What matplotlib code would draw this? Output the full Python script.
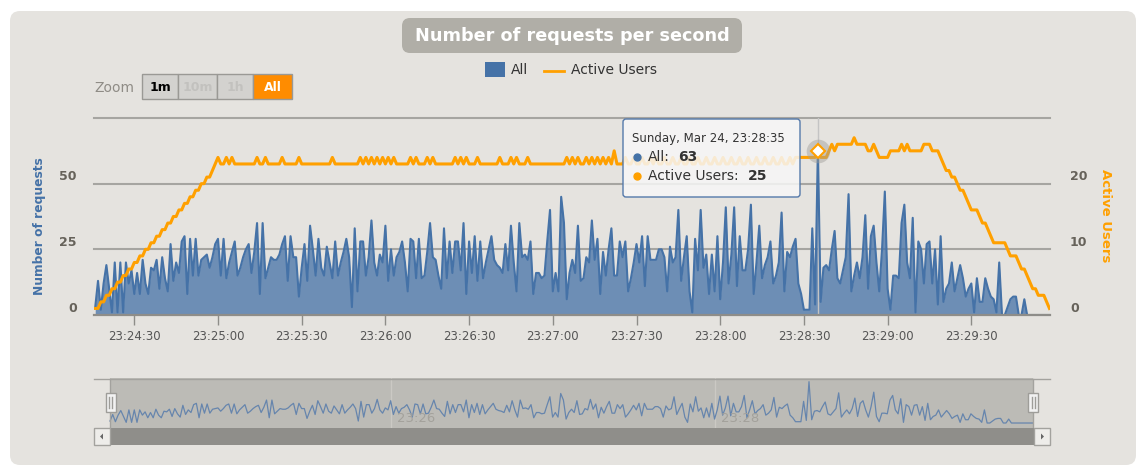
import matplotlib
matplotlib.use("Agg")
import numpy as np
import matplotlib.pyplot as plt
from matplotlib.patches import Rectangle, FancyBboxPatch, Polygon
from matplotlib.lines import Line2D
from matplotlib.transforms import IdentityTransform

W, H = 1146, 473

# requests per second, one value per second starting 23:24:16
requests = [
    3, 13, 2, 12, 19, 10, 1, 20, 1, 20,
    1, 20, 12, 17, 8, 16, 8, 21, 12, 8,
    18, 17, 21, 10, 22, 14, 9, 27, 13, 20,
    16, 28, 30, 8, 29, 15, 29, 15, 21, 22,
    23, 18, 22, 27, 29, 15, 29, 14, 20, 24,
    28, 15, 18, 22, 25, 27, 16, 24, 35, 8,
    35, 14, 18, 22, 21, 21, 23, 27, 30, 13,
    30, 22, 22, 7, 18, 27, 13, 34, 25, 15,
    29, 18, 15, 26, 20, 14, 28, 15, 20, 24,
    29, 22, 3, 33, 9, 28, 28, 15, 22, 36,
    20, 15, 23, 20, 34, 13, 25, 15, 22, 24,
    28, 20, 9, 29, 28, 14, 29, 14, 15, 24,
    35, 22, 21, 15, 10, 33, 14, 28, 16, 28,
    28, 17, 35, 8, 28, 16, 30, 13, 28, 14,
    20, 25, 30, 21, 19, 18, 16, 27, 17, 34,
    20, 9, 35, 22, 23, 21, 28, 8, 16, 16,
    14, 15, 28, 40, 9, 16, 9, 45, 35, 6,
    16, 21, 16, 34, 13, 14, 22, 20, 36, 21,
    29, 8, 24, 15, 25, 33, 15, 15, 28, 22,
    28, 9, 14, 20, 27, 20, 30, 11, 30, 21,
    21, 21, 25, 25, 22, 9, 26, 20, 22, 40,
    13, 22, 30, 9, 1, 29, 17, 40, 18, 23,
    8, 23, 9, 30, 6, 20, 41, 12, 23, 41,
    11, 30, 17, 17, 25, 42, 8, 20, 34, 14,
    19, 22, 28, 12, 15, 20, 39, 9, 24, 22,
    26, 29, 12, 8, 2, 2, 2, 33, 4, 63,
    5, 18, 19, 17, 25, 32, 14, 12, 17, 22,
    46, 9, 15, 20, 14, 22, 38, 10, 30, 34,
    20, 9, 25, 47, 10, 2, 15, 15, 14, 35,
    42, 20, 14, 37, 1, 28, 25, 12, 27, 28,
    12, 25, 4, 30, 5, 10, 12, 20, 9, 14,
    19, 14, 7, 10, 12, 1, 14, 5, 5, 14,
    10, 7, 6, 1, 20, 0, 0, 3, 6, 7,
    7, 0, 0, 6, 0, 0, 0, 0, 0, 0,
    0, 0, 0,
]

active_users = [
    1, 1, 2, 2, 3, 3, 4, 4, 5, 5,
    6, 6, 7, 7, 8, 8, 9, 9, 10, 10,
    11, 11, 12, 12, 13, 13, 14, 14, 15, 15,
    16, 16, 17, 17, 18, 18, 19, 19, 20, 20,
    21, 21, 22, 23, 24, 23, 23, 24, 23, 24,
    23, 23, 23, 23, 23, 23, 23, 23, 24, 23,
    23, 24, 23, 23, 23, 23, 23, 24, 23, 23,
    23, 23, 23, 24, 23, 23, 23, 23, 23, 23,
    23, 23, 23, 23, 23, 24, 23, 23, 23, 23,
    23, 23, 23, 23, 23, 24, 23, 24, 23, 24,
    23, 24, 23, 24, 23, 24, 23, 24, 23, 23,
    23, 23, 23, 24, 23, 24, 23, 23, 23, 24,
    23, 24, 23, 23, 23, 23, 23, 23, 23, 24,
    23, 24, 23, 24, 23, 23, 23, 24, 23, 23,
    23, 23, 23, 23, 23, 24, 23, 23, 23, 24,
    23, 24, 23, 23, 23, 24, 23, 23, 23, 23,
    23, 23, 23, 23, 23, 23, 23, 23, 23, 24,
    23, 24, 23, 24, 23, 23, 24, 23, 24, 23,
    24, 23, 24, 23, 24, 23, 25, 23, 23, 23,
    24, 23, 23, 24, 23, 23, 24, 23, 23, 24,
    23, 24, 23, 23, 24, 23, 23, 24, 23, 23,
    24, 23, 23, 24, 23, 23, 24, 23, 23, 24,
    23, 23, 24, 23, 23, 24, 23, 23, 24, 23,
    23, 24, 23, 23, 24, 23, 23, 24, 23, 23,
    24, 23, 23, 24, 23, 23, 24, 23, 23, 24,
    23, 24, 24, 24, 24, 24, 24, 24, 24, 25,
    24, 24, 24, 25, 26, 25, 26, 26, 26, 26,
    26, 26, 27, 26, 26, 26, 26, 25, 25, 26,
    25, 24, 24, 24, 24, 25, 25, 25, 25, 26,
    25, 26, 25, 25, 25, 25, 25, 26, 26, 26,
    25, 25, 25, 24, 23, 22, 22, 21, 21, 20,
    19, 19, 18, 17, 16, 16, 16, 15, 14, 14,
    13, 12, 11, 11, 11, 11, 11, 10, 9, 9,
    9, 8, 7, 7, 6, 5, 4, 4, 3, 3,
    3, 2, 1,
]

tick_seconds = [14, 44, 74, 104, 134, 164, 194, 224, 254, 284, 314]
tick_labels = ["23:24:30", "23:25:00", "23:25:30", "23:26:00", "23:26:30", "23:27:00",
               "23:27:30", "23:28:00", "23:28:30", "23:29:00", "23:29:30"]
nav_seconds = [104, 224]
nav_labels = ["23:26", "23:28"]
hover = 259
hover_date = "Sunday, Mar 24, 23:28:35"

BLUE = "#4572A7"
ORANGE = "#FFA000"
PANEL = "#E5E3DF"
GRID = "#A6A5A1"

PX = IdentityTransform()
fig = plt.figure(figsize=(W / 100, H / 100), dpi=100, facecolor="white")


def box(x0, y0, x1, y1):
    return [x0 / W, 1 - y1 / H, (x1 - x0) / W, (y1 - y0) / H]


def prect(x0, y0, x1, y1, z=1, **kw):
    fig.add_artist(Rectangle((x0, H - y1), x1 - x0, y1 - y0, transform=PX, zorder=z, **kw))


def ptext(x, y, s, **kw):
    kw.setdefault("zorder", 6)
    fig.text(x, H - y, s, transform=PX, **kw)


def pline(xs, ys, **kw):
    fig.add_artist(Line2D(xs, [H - y for y in ys], transform=PX, **kw))


# panel background
fig.add_artist(FancyBboxPatch((10, H - 465), 1126, 454, boxstyle="round,pad=0,rounding_size=10",
                              transform=PX, fc=PANEL, ec="none", zorder=-5))

# title
fig.add_artist(FancyBboxPatch((402, H - 53), 340, 35, boxstyle="round,pad=0,rounding_size=8",
                              transform=PX, fc="#B0AEA7", ec="none", zorder=1))
ptext(572, 36, "Number of requests per second", ha="center", va="center",
      color="white", fontsize=12.7, fontweight="bold")

# legend
prect(485, 62, 505, 77, fc=BLUE, ec="none")
ptext(511, 70, "All", ha="left", va="center", color="#333333", fontsize=10)
pline([544, 564], [70.5, 70.5], color=ORANGE, lw=2)
ptext(571, 70, "Active Users", ha="left", va="center", color="#333333", fontsize=10)

# zoom buttons
ptext(94, 88, "Zoom", ha="left", va="center", color="#8F8C86", fontsize=10)
edges = [141.7, 178.3, 216.7, 253.3, 291.7]
btn_text = ["1m", "10m", "1h", "All"]
btn_fc = ["#D3D2CF", "#D3D2CF", "#D3D2CF", "#FF8C00"]
btn_tc = ["#000000", "#C2C1BE", "#C2C1BE", "#FFFFFF"]
for i, s in enumerate(btn_text):
    prect(edges[i], 74, edges[i + 1], 99, fc=btn_fc[i], ec="#9A9995", lw=1)
    ptext((edges[i] + edges[i + 1]) / 2, 87, s, ha="center", va="center",
          color=btn_tc[i], fontsize=9, fontweight="bold")

# main chart
seconds = np.arange(len(requests))
ax = fig.add_axes(box(94, 118, 1050, 315))
ax.set_facecolor("none")
ax.set_xlim(-0.44, 342.2)
ax.set_ylim(0, 75)
for v in [25, 50, 75]:
    ax.axhline(v, color=GRID, lw=1.5, zorder=0.5, clip_on=False)
ax.fill_between(seconds, requests, color=BLUE, alpha=0.75, lw=0, zorder=1)
ax.plot(seconds, requests, color=BLUE, lw=1.5, zorder=2)
ax.axvline(hover, color="#C4C4C4", lw=1, zorder=1.5)
ax.axhline(0, color="#8E8D89", lw=1.6, zorder=3, clip_on=False)
for s in ax.spines.values():
    s.set_visible(False)
ax.set_yticks([])
ax.set_xticks(tick_seconds, tick_labels)
ax.tick_params(axis="x", length=7, width=1, color="#8E8D89", labelcolor="#555555",
               labelsize=8.5, pad=4)
for v in [0, 25, 50]:
    ax.annotate(str(v), xy=(0, v), xycoords=("axes fraction", "data"), xytext=(-17, 7),
                textcoords="offset pixels", ha="right", va="center",
                fontsize=9, fontweight="bold", color="#66625A")

ax2 = ax.twinx()
ax2.set_ylim(0, 30)
ax2.plot(seconds, active_users, color=ORANGE, lw=2.2, solid_joinstyle="round", zorder=2)
for s in ax2.spines.values():
    s.set_visible(False)
ax2.set_yticks([])
for v in [0, 10, 20]:
    ax2.annotate(str(v), xy=(1, v), xycoords=("axes fraction", "data"), xytext=(20, 7),
                 textcoords="offset pixels", ha="left", va="center",
                 fontsize=9, fontweight="bold", color="#66625A")
# hover markers
ax2.plot([hover], [active_users[hover]], "o", ms=17, color="#A09E98", alpha=0.45, mec="none", zorder=3)
ax.plot([hover], [requests[hover]], "o", ms=6, color=BLUE, zorder=4)
ax2.plot([hover], [active_users[hover]], "D", ms=7, mfc="white", mec=ORANGE, mew=1.5, zorder=4)

ptext(40, 226, "Number of requests", rotation=90, ha="center", va="center",
      color=BLUE, fontsize=8.8, fontweight="bold")
ptext(1105, 216, "Active Users", rotation=-90, ha="center", va="center",
      color=ORANGE, fontsize=9.5, fontweight="bold")

# tooltip
fig.add_artist(FancyBboxPatch((623, H - 197), 177, 78, boxstyle="round,pad=0,rounding_size=3",
                              transform=PX, fc=(0.97, 0.97, 0.97, 0.85), ec="#5479AA", lw=1, zorder=5))
ptext(632, 138, hover_date, ha="left", va="center", color="#333333", fontsize=8.5)
pline([637], [157], marker="o", ms=5, color=BLUE, lw=0, zorder=6)
ptext(648, 157, "All:", ha="left", va="center", color="#333333", fontsize=10)
ptext(678, 157, str(requests[hover]), ha="left", va="center", color="#333333", fontsize=10, fontweight="bold")
pline([637], [176], marker="o", ms=5, color=ORANGE, lw=0, zorder=6)
ptext(648, 176, "Active Users:", ha="left", va="center", color="#333333", fontsize=10)
ptext(748, 176, str(active_users[hover]), ha="left", va="center", color="#333333", fontsize=10, fontweight="bold")

# navigator
nav = fig.add_axes(box(94, 378, 1050, 428))
nav.set_facecolor("none")
nav.set_xlim(-5.93, 348.3)
nav.set_ylim(-7.6, 68.6)
nav.axvspan(0, 342, color="#BCBBB6", lw=0, zorder=0)
for t, lab in zip(nav_seconds, nav_labels):
    nav.axvline(t, color="#CBC9C4", lw=1, zorder=0.5)
    nav.annotate(lab, xy=(t, 0.2), xycoords=("data", "axes fraction"), xytext=(6, 0),
                 textcoords="offset pixels", ha="left", va="center", color="#A3A19B", fontsize=9.5)
nav.plot(seconds, requests, color="#6685AD", lw=0.9, zorder=1)
nav.set_xticks([])
nav.set_yticks([])
for s in nav.spines.values():
    s.set_visible(False)
pline([94, 1050], [378.5, 378.5], color="#A3A29E", lw=1, zorder=2)
pline([110, 110], [378.5, 428], color="#A3A29E", lw=1, zorder=2)
pline([1033, 1033], [378.5, 428], color="#A3A29E", lw=1, zorder=2)

# scrollbar
prect(94, 428, 1050, 445, fc="#8F8E8A", ec="none", z=2)
prect(94, 428, 110, 445, fc="#EEEDEA", ec="#A3A29E", lw=1, z=2)
prect(1034, 428, 1050, 445, fc="#EEEDEA", ec="#A3A29E", lw=1, z=2)
fig.add_artist(Polygon([(100, H - 436.5), (103, H - 433.5), (103, H - 439.5)], closed=True,
                       transform=PX, fc="#666666", ec="none", zorder=3))
fig.add_artist(Polygon([(1044, H - 436.5), (1041, H - 433.5), (1041, H - 439.5)], closed=True,
                       transform=PX, fc="#666666", ec="none", zorder=3))
# handles
for hx in [110.5, 1033]:
    prect(hx - 5, 393, hx + 5, 412, fc="#F2F2F2", ec="#9E9D99", lw=1, z=3)
    pline([hx - 1.5, hx - 1.5], [397, 408], color="#9E9D99", lw=1, zorder=4)
    pline([hx + 1.5, hx + 1.5], [397, 408], color="#9E9D99", lw=1, zorder=4)

fig.savefig("out.png", dpi=100, facecolor="white")
